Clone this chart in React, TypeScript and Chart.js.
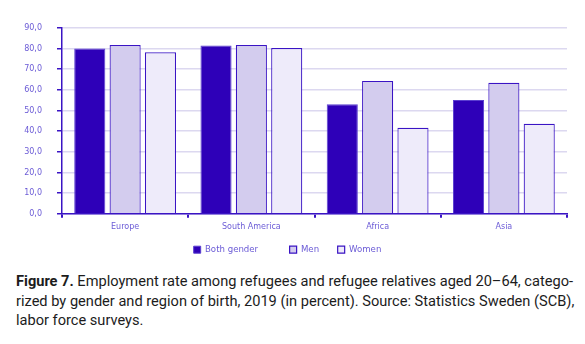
import React, { useEffect, useLayoutEffect, useRef, useState } from "react";
import { Chart, registerables } from "chart.js";

Chart.register(...registerables);

const categories = ["Europe", "South America", "Africa", "Asia"];
const bothGender = [80.0, 81.4, 53.0, 55.1];
const men = [81.7, 81.7, 64.3, 63.4];
const women = [78.2, 80.2, 41.6, 43.6];
const yTicks = [0, 10, 20, 30, 40, 50, 60, 70, 80, 90];
const legendGaps = ["\u2002\u2002\u2002\u2002\u2002", "\u2002\u2002", ""];

const DARK = "#3a14c4";
const GRID = "#dcd8f0";
const LABEL = "#6b5bd6";

export default function App() {
  const ref = useRef<HTMLCanvasElement | null>(null);
  const line1 = useRef<HTMLSpanElement | null>(null);
  const [sx, setSx] = useState(1);

  useLayoutEffect(() => {
    if (line1.current) {
      const w = line1.current.getBoundingClientRect().width;
      if (w > 0) setSx(557 / w);
    }
  }, []);

  useEffect(() => {
    if (!ref.current) return;
    const chart = new Chart(ref.current, {
      type: "bar",
      data: {
        labels: categories,
        datasets: [
          { label: "Both gender", data: bothGender, backgroundColor: "#2e00b8", borderColor: "#5a3ed0", borderWidth: 1 },
          { label: "Men", data: men, backgroundColor: "#d3ccee", borderColor: "#3a14c4", borderWidth: 1.2 },
          { label: "Women", data: women, backgroundColor: "#eeebfa", borderColor: "#3a14c4", borderWidth: 1.2 },
        ],
      },
      options: {
        responsive: false,
        animation: false,
        layout: { padding: { top: 2, right: 10, left: 0, bottom: 0 } },
        datasets: { bar: { categoryPercentage: 0.84, barPercentage: 0.88 } },
        plugins: {
          tooltip: { enabled: false },
          legend: {
            position: "bottom",
            labels: {
              boxWidth: 7,
              boxHeight: 7,
              padding: 10,
              color: LABEL,
              font: { family: "DejaVu Sans", size: 8.6 },
              generateLabels: (c: any) =>
                Chart.defaults.plugins.legend.labels
                  .generateLabels(c)
                  .map((l: any, i: number) => ({ ...l, text: l.text + legendGaps[i] })),
            },
          },
        },
        scales: {
          x: {
            offset: true,
            border: { color: DARK, width: 1.5 },
            grid: {
              offset: true,
              drawOnChartArea: true,
              color: (c: any) => (c.index === categories.length ? GRID : "rgba(0,0,0,0)"),
              tickColor: DARK,
              tickLength: 4,
              lineWidth: 2,
            },
            ticks: { color: LABEL, font: { family: "DejaVu Sans", size: 8 }, padding: 4 },
          },
          y: {
            min: 0,
            max: 90,
            afterFit: (s: any) => { s.width = 54; },
            afterBuildTicks: (s: any) => { s.ticks = yTicks.map((v) => ({ value: v })); },
            border: { color: DARK, width: 1.5 },
            grid: { color: GRID, lineWidth: 1.5, tickColor: DARK, tickLength: 5 },
            ticks: {
              color: LABEL,
              font: { family: "DejaVu Sans", size: 8 },
              padding: 15,
              callback: (v: any) => Number(v).toFixed(1).replace(".", ","),
            },
          },
        },
      },
    });
    return () => chart.destroy();
  }, []);

  return (
    <div>
      <canvas ref={ref} width={569} height={256} style={{ display: "block" }} />
      <div
        style={{
          marginTop: 8,
          marginLeft: 8,
          fontFamily: "Roboto, sans-serif",
          fontSize: 15.5,
          lineHeight: "19.5px",
          color: "#1c1c1c",
          whiteSpace: "nowrap",
          transformOrigin: "left top",
          transform: `scaleX(${sx})`,
          width: "max-content",
        }}
      >
        <span ref={line1}>
          <b>Figure 7.</b> Employment rate among refugees and refugee relatives aged 20–64, catego-
        </span>
        <br />
        rized by gender and region of birth, 2019 (in percent). Source: Statistics Sweden (SCB),
        <br />
        labor force surveys.
      </div>
    </div>
  );
}
